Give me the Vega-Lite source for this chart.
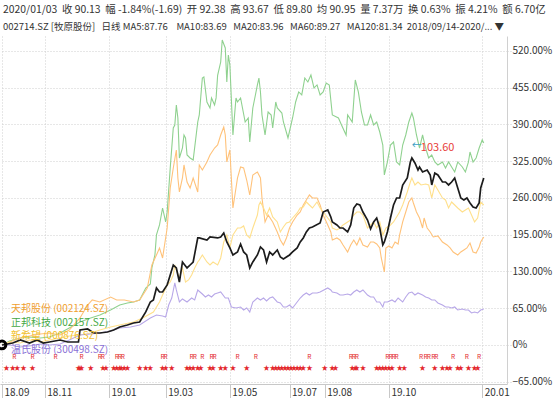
{
"$schema":"https://vega.github.io/schema/vega-lite/v6.json",
"width":507,"height":348,
"autosize":{"type":"none"},
"padding":{"top":36,"left":0,"right":47,"bottom":14},
"background":"white",
"config":{"font":"Noto Sans CJK SC","view":{"stroke":null},"axis":{"labelOverlap":false}},
"title":{"text":"2020/01/03\u00a0\u00a0收 90.13\u00a0\u00a0幅 -1.84%(-1.69)\u00a0\u00a0开 92.38\u00a0\u00a0高 93.67\u00a0\u00a0低 89.80\u00a0\u00a0均 90.95\u00a0\u00a0量 7.37万\u00a0\u00a0换 0.63%\u00a0\u00a0振 4.21%\u00a0\u00a0额 6.70亿",
"subtitle":"002714.SZ [牧原股份]\u00a0\u00a0\u00a0日线\u00a0MA5:87.76\u00a0\u00a0\u00a0\u00a0MA10:83.69\u00a0\u00a0\u00a0MA20:83.96\u00a0\u00a0\u00a0MA60:89.27\u00a0\u00a0\u00a0MA120:81.34\u00a0\u00a02018/09/14-2020/... ▼",
"anchor":"start","frame":"group","offset":5,"fontSize":10.4,"fontWeight":"normal","color":"#333333","subtitleFontSize":9.5,"subtitleColor":"#333333","subtitlePadding":6,"dx":3},
"datasets":{
"my":[{"d":0,"v":0},{"d":7,"v":3.5},{"d":12,"v":8.8},{"d":18,"v":3.5},{"d":23,"v":8.8},{"d":27,"v":3.5},{"d":31,"v":5.3},{"d":38,"v":8.8},{"d":43,"v":5.3},{"d":46,"v":5.3},{"d":50,"v":5.3},{"d":51,"v":26.5},{"d":56,"v":28.3},{"d":60,"v":21.2},{"d":64,"v":21.2},{"d":69,"v":23},{"d":73,"v":26.5},{"d":77,"v":31.8},{"d":82,"v":35.4},{"d":86,"v":38.9},{"d":90,"v":40.7},{"d":94,"v":58.4},{"d":97,"v":76.1},{"d":99,"v":79.6},{"d":101,"v":100.8},{"d":103,"v":93.7},{"d":105,"v":93.7},{"d":108,"v":106.1},{"d":110,"v":123.8},{"d":112,"v":141.5},{"d":114,"v":136.2},{"d":116,"v":111.4},{"d":118,"v":146.8},{"d":121,"v":136.2},{"d":123,"v":141.5},{"d":125,"v":146.8},{"d":128,"v":189.3},{"d":129,"v":189.3},{"d":134,"v":185.7},{"d":136,"v":191},{"d":141,"v":189.3},{"d":143,"v":191},{"d":145,"v":198.1},{"d":147,"v":182.2},{"d":149,"v":171.6},{"d":151,"v":159.2},{"d":154,"v":164.5},{"d":156,"v":178.6},{"d":158,"v":164.5},{"d":160,"v":159.2},{"d":162,"v":136.2},{"d":164,"v":146.8},{"d":167,"v":159.2},{"d":169,"v":173.3},{"d":171,"v":168},{"d":173,"v":146.8},{"d":175,"v":164.5},{"d":177,"v":159.2},{"d":180,"v":168},{"d":182,"v":155.6},{"d":184,"v":152.1},{"d":186,"v":155.6},{"d":188,"v":159.2},{"d":190,"v":164.5},{"d":193,"v":171.6},{"d":195,"v":182.2},{"d":197,"v":189.3},{"d":199,"v":199.9},{"d":201,"v":206.9},{"d":203,"v":208.7},{"d":208,"v":215.8},{"d":210,"v":235.2},{"d":213,"v":238.8},{"d":215,"v":226.4},{"d":216,"v":217.6},{"d":219,"v":212.3},{"d":221,"v":206.9},{"d":223,"v":206.9},{"d":226,"v":199.9},{"d":228,"v":212.3},{"d":230,"v":242.3},{"d":232,"v":249.4},{"d":234,"v":247.6},{"d":236,"v":235.2},{"d":239,"v":221.1},{"d":241,"v":205.2},{"d":243,"v":217.6},{"d":245,"v":224.6},{"d":247,"v":206.9},{"d":249,"v":176.9},{"d":250,"v":182.2},{"d":252,"v":199.9},{"d":254,"v":224.6},{"d":256,"v":247.6},{"d":258,"v":260},{"d":260,"v":260},{"d":262,"v":283},{"d":265,"v":295.4},{"d":267,"v":323.7},{"d":268,"v":330.7},{"d":270,"v":321.9},{"d":272,"v":309.5},{"d":273,"v":314.8},{"d":275,"v":306},{"d":278,"v":309.5},{"d":280,"v":300.7},{"d":281,"v":283},{"d":283,"v":304.2},{"d":285,"v":300.7},{"d":288,"v":288.3},{"d":290,"v":288.3},{"d":292,"v":283},{"d":294,"v":288.3},{"d":296,"v":295.4},{"d":298,"v":277.7},{"d":300,"v":260},{"d":302,"v":256.5},{"d":304,"v":260},{"d":306,"v":251.2},{"d":308,"v":244.1},{"d":310,"v":242.3},{"d":312,"v":251.2},{"d":313,"v":277.7},{"d":315,"v":295.4}],
"lines":[
{"s":"zb","d":0,"v":0},{"s":"zb","d":5,"v":7.1},{"s":"zb","d":12,"v":12.4},{"s":"zb","d":18,"v":14.1},{"s":"zb","d":25,"v":12.4},{"s":"zb","d":31,"v":14.1},{"s":"zb","d":38,"v":21.2},{"s":"zb","d":44,"v":30.1},{"s":"zb","d":51,"v":40.7},{"s":"zb","d":58,"v":47.8},{"s":"zb","d":64,"v":53.1},{"s":"zb","d":71,"v":61.9},{"s":"zb","d":77,"v":70.7},{"s":"zb","d":82,"v":74.3},{"s":"zb","d":86,"v":76.1},{"s":"zb","d":90,"v":79.6},{"s":"zb","d":94,"v":100.8},{"s":"zb","d":97,"v":107.9},{"s":"zb","d":98,"v":136.2},{"s":"zb","d":100,"v":159.2},{"s":"zb","d":101,"v":194.6},{"s":"zb","d":103,"v":212.3},{"s":"zb","d":105,"v":242.3},{"s":"zb","d":107,"v":217.6},{"s":"zb","d":108,"v":235.2},{"s":"zb","d":110,"v":313.1},{"s":"zb","d":112,"v":383.8},{"s":"zb","d":113,"v":389.1},{"s":"zb","d":114,"v":424.5},{"s":"zb","d":115,"v":401.5},{"s":"zb","d":116,"v":330.7},{"s":"zb","d":118,"v":348.4},{"s":"zb","d":119,"v":371.4},{"s":"zb","d":120,"v":366.2},{"s":"zb","d":121,"v":336},{"s":"zb","d":123,"v":330.7},{"s":"zb","d":125,"v":327.2},{"s":"zb","d":128,"v":394.4},{"s":"zb","d":129,"v":406.8},{"s":"zb","d":131,"v":472.2},{"s":"zb","d":132,"v":474},{"s":"zb","d":134,"v":429.8},{"s":"zb","d":136,"v":419.2},{"s":"zb","d":137,"v":436.9},{"s":"zb","d":139,"v":424.5},{"s":"zb","d":140,"v":437},{"s":"zb","d":141,"v":477},{"s":"zb","d":143,"v":500.5},{"s":"zb","d":144,"v":539.4},{"s":"zb","d":146,"v":525.3},{"s":"zb","d":147,"v":465},{"s":"zb","d":148,"v":512.8},{"s":"zb","d":149,"v":495.2},{"s":"zb","d":151,"v":371.4},{"s":"zb","d":153,"v":436.9},{"s":"zb","d":154,"v":429.8},{"s":"zb","d":156,"v":436.9},{"s":"zb","d":159,"v":394.4},{"s":"zb","d":161,"v":401.5},{"s":"zb","d":162,"v":359},{"s":"zb","d":164,"v":419.2},{"s":"zb","d":167,"v":459.9},{"s":"zb","d":168,"v":472.2},{"s":"zb","d":169,"v":447.5},{"s":"zb","d":170,"v":406.8},{"s":"zb","d":172,"v":371.4},{"s":"zb","d":174,"v":412.1},{"s":"zb","d":176,"v":406.8},{"s":"zb","d":177,"v":383.8},{"s":"zb","d":179,"v":429.8},{"s":"zb","d":180,"v":419.2},{"s":"zb","d":183,"v":410.3},{"s":"zb","d":184,"v":394.4},{"s":"zb","d":187,"v":366.2},{"s":"zb","d":190,"v":401.5},{"s":"zb","d":192,"v":429.8},{"s":"zb","d":194,"v":447.5},{"s":"zb","d":196,"v":442.2},{"s":"zb","d":198,"v":472.2},{"s":"zb","d":200,"v":465.2},{"s":"zb","d":202,"v":477.5},{"s":"zb","d":204,"v":454.6},{"s":"zb","d":206,"v":459.9},{"s":"zb","d":208,"v":442.2},{"s":"zb","d":210,"v":447.5},{"s":"zb","d":212,"v":463.4},{"s":"zb","d":214,"v":459.9},{"s":"zb","d":216,"v":406.8},{"s":"zb","d":220,"v":401.5},{"s":"zb","d":222,"v":389.1},{"s":"zb","d":225,"v":371.4},{"s":"zb","d":226,"v":406.8},{"s":"zb","d":229,"v":394.4},{"s":"zb","d":231,"v":468.7},{"s":"zb","d":233,"v":447.5},{"s":"zb","d":235,"v":412.1},{"s":"zb","d":237,"v":389.1},{"s":"zb","d":239,"v":389.1},{"s":"zb","d":241,"v":406.8},{"s":"zb","d":243,"v":389.1},{"s":"zb","d":245,"v":394.4},{"s":"zb","d":247,"v":376.7},{"s":"zb","d":249,"v":353.7},{"s":"zb","d":250,"v":300.7},{"s":"zb","d":252,"v":323.7},{"s":"zb","d":254,"v":353.7},{"s":"zb","d":256,"v":359},{"s":"zb","d":258,"v":323.7},{"s":"zb","d":260,"v":318.4},{"s":"zb","d":262,"v":353.7},{"s":"zb","d":264,"v":371.4},{"s":"zb","d":266,"v":394.4},{"s":"zb","d":268,"v":410.3},{"s":"zb","d":269,"v":401.5},{"s":"zb","d":271,"v":371.4},{"s":"zb","d":273,"v":348.4},{"s":"zb","d":275,"v":371.4},{"s":"zb","d":277,"v":348.4},{"s":"zb","d":279,"v":330.7},{"s":"zb","d":281,"v":336},{"s":"zb","d":283,"v":323.7},{"s":"zb","d":285,"v":318.4},{"s":"zb","d":288,"v":323.7},{"s":"zb","d":290,"v":313.1},{"s":"zb","d":292,"v":323.7},{"s":"zb","d":294,"v":314.8},{"s":"zb","d":296,"v":306},{"s":"zb","d":298,"v":323.7},{"s":"zb","d":301,"v":314.8},{"s":"zb","d":303,"v":306},{"s":"zb","d":305,"v":323.7},{"s":"zb","d":306,"v":341.4},{"s":"zb","d":308,"v":323.7},{"s":"zb","d":310,"v":330.7},{"s":"zb","d":312,"v":348.4},{"s":"zb","d":314,"v":362.6},{"s":"zb","d":315,"v":357.3},
{"s":"tb","d":0,"v":0},{"s":"tb","d":5,"v":5.3},{"s":"tb","d":12,"v":12.4},{"s":"tb","d":18,"v":15.9},{"s":"tb","d":25,"v":19.5},{"s":"tb","d":31,"v":21.2},{"s":"tb","d":38,"v":17.7},{"s":"tb","d":44,"v":26.5},{"s":"tb","d":51,"v":47.8},{"s":"tb","d":56,"v":70.7},{"s":"tb","d":59,"v":79.6},{"s":"tb","d":64,"v":76.1},{"s":"tb","d":71,"v":84.9},{"s":"tb","d":75,"v":79.6},{"s":"tb","d":80,"v":79.6},{"s":"tb","d":86,"v":76.1},{"s":"tb","d":90,"v":79.6},{"s":"tb","d":95,"v":100.8},{"s":"tb","d":98,"v":141.5},{"s":"tb","d":101,"v":159.2},{"s":"tb","d":103,"v":171.6},{"s":"tb","d":105,"v":153.9},{"s":"tb","d":108,"v":206.9},{"s":"tb","d":110,"v":277.7},{"s":"tb","d":112,"v":313.1},{"s":"tb","d":114,"v":344.9},{"s":"tb","d":115,"v":295.4},{"s":"tb","d":116,"v":270.6},{"s":"tb","d":118,"v":295.4},{"s":"tb","d":119,"v":318.4},{"s":"tb","d":121,"v":288.3},{"s":"tb","d":123,"v":277.7},{"s":"tb","d":125,"v":295.4},{"s":"tb","d":128,"v":270.6},{"s":"tb","d":129,"v":318.4},{"s":"tb","d":131,"v":309.5},{"s":"tb","d":134,"v":323.7},{"s":"tb","d":136,"v":336},{"s":"tb","d":139,"v":348.4},{"s":"tb","d":141,"v":353.7},{"s":"tb","d":143,"v":371.4},{"s":"tb","d":145,"v":385.6},{"s":"tb","d":146,"v":371.4},{"s":"tb","d":147,"v":323.7},{"s":"tb","d":149,"v":344.9},{"s":"tb","d":151,"v":242.3},{"s":"tb","d":154,"v":295.4},{"s":"tb","d":156,"v":314.8},{"s":"tb","d":158,"v":313.1},{"s":"tb","d":160,"v":291.8},{"s":"tb","d":162,"v":265.3},{"s":"tb","d":164,"v":300.7},{"s":"tb","d":167,"v":306},{"s":"tb","d":169,"v":295.4},{"s":"tb","d":170,"v":260},{"s":"tb","d":172,"v":217.6},{"s":"tb","d":174,"v":229.9},{"s":"tb","d":177,"v":217.6},{"s":"tb","d":180,"v":199.9},{"s":"tb","d":182,"v":185.7},{"s":"tb","d":184,"v":176.9},{"s":"tb","d":186,"v":189.3},{"s":"tb","d":188,"v":206.9},{"s":"tb","d":190,"v":217.6},{"s":"tb","d":193,"v":229.9},{"s":"tb","d":195,"v":235.2},{"s":"tb","d":197,"v":247.6},{"s":"tb","d":199,"v":256.5},{"s":"tb","d":201,"v":265.3},{"s":"tb","d":203,"v":260},{"s":"tb","d":206,"v":260},{"s":"tb","d":208,"v":247.6},{"s":"tb","d":210,"v":229.9},{"s":"tb","d":213,"v":212.3},{"s":"tb","d":215,"v":199.9},{"s":"tb","d":216,"v":185.7},{"s":"tb","d":219,"v":189.3},{"s":"tb","d":221,"v":185.7},{"s":"tb","d":223,"v":176.9},{"s":"tb","d":226,"v":164.5},{"s":"tb","d":228,"v":176.9},{"s":"tb","d":230,"v":185.7},{"s":"tb","d":232,"v":176.9},{"s":"tb","d":234,"v":189.3},{"s":"tb","d":236,"v":176.9},{"s":"tb","d":239,"v":173.3},{"s":"tb","d":241,"v":182.2},{"s":"tb","d":243,"v":182.2},{"s":"tb","d":245,"v":178.6},{"s":"tb","d":247,"v":171.6},{"s":"tb","d":248,"v":153.9},{"s":"tb","d":250,"v":129.1},{"s":"tb","d":251,"v":171.6},{"s":"tb","d":253,"v":175.1},{"s":"tb","d":255,"v":171.6},{"s":"tb","d":257,"v":182.2},{"s":"tb","d":259,"v":178.6},{"s":"tb","d":260,"v":194.6},{"s":"tb","d":262,"v":217.6},{"s":"tb","d":264,"v":235.2},{"s":"tb","d":266,"v":252.9},{"s":"tb","d":268,"v":260},{"s":"tb","d":269,"v":251.2},{"s":"tb","d":271,"v":235.2},{"s":"tb","d":273,"v":224.6},{"s":"tb","d":275,"v":206.9},{"s":"tb","d":276,"v":224.6},{"s":"tb","d":278,"v":206.9},{"s":"tb","d":280,"v":199.9},{"s":"tb","d":282,"v":191},{"s":"tb","d":285,"v":192.8},{"s":"tb","d":286,"v":189.3},{"s":"tb","d":288,"v":182.2},{"s":"tb","d":291,"v":176.9},{"s":"tb","d":293,"v":171.6},{"s":"tb","d":295,"v":164.5},{"s":"tb","d":298,"v":159.2},{"s":"tb","d":300,"v":164.5},{"s":"tb","d":302,"v":168},{"s":"tb","d":304,"v":171.6},{"s":"tb","d":306,"v":180.4},{"s":"tb","d":308,"v":164.5},{"s":"tb","d":310,"v":162.7},{"s":"tb","d":312,"v":173.3},{"s":"tb","d":313,"v":182.2},{"s":"tb","d":315,"v":191},
{"s":"xxw","d":0,"v":0},{"s":"xxw","d":5,"v":5.3},{"s":"xxw","d":12,"v":3.5},{"s":"xxw","d":18,"v":8.8},{"s":"xxw","d":25,"v":5.3},{"s":"xxw","d":31,"v":8.8},{"s":"xxw","d":38,"v":12.4},{"s":"xxw","d":44,"v":15.9},{"s":"xxw","d":51,"v":17.7},{"s":"xxw","d":58,"v":21.2},{"s":"xxw","d":64,"v":26.5},{"s":"xxw","d":71,"v":31.8},{"s":"xxw","d":77,"v":35.4},{"s":"xxw","d":86,"v":40.7},{"s":"xxw","d":92,"v":47.8},{"s":"xxw","d":99,"v":58.4},{"s":"xxw","d":103,"v":76.1},{"s":"xxw","d":105,"v":88.4},{"s":"xxw","d":108,"v":106.1},{"s":"xxw","d":110,"v":111.4},{"s":"xxw","d":112,"v":123.8},{"s":"xxw","d":113,"v":141.5},{"s":"xxw","d":114,"v":132.7},{"s":"xxw","d":116,"v":118.5},{"s":"xxw","d":118,"v":136.2},{"s":"xxw","d":120,"v":111.4},{"s":"xxw","d":122,"v":115},{"s":"xxw","d":124,"v":123.8},{"s":"xxw","d":126,"v":136.2},{"s":"xxw","d":128,"v":146.8},{"s":"xxw","d":129,"v":150.3},{"s":"xxw","d":131,"v":159.2},{"s":"xxw","d":134,"v":146.8},{"s":"xxw","d":136,"v":141.5},{"s":"xxw","d":138,"v":146.8},{"s":"xxw","d":141,"v":141.5},{"s":"xxw","d":143,"v":153.9},{"s":"xxw","d":145,"v":182.2},{"s":"xxw","d":147,"v":194.6},{"s":"xxw","d":149,"v":171.6},{"s":"xxw","d":151,"v":194.6},{"s":"xxw","d":154,"v":206.9},{"s":"xxw","d":156,"v":206.9},{"s":"xxw","d":158,"v":210.5},{"s":"xxw","d":160,"v":194.6},{"s":"xxw","d":162,"v":189.3},{"s":"xxw","d":164,"v":206.9},{"s":"xxw","d":167,"v":229.9},{"s":"xxw","d":168,"v":247.6},{"s":"xxw","d":169,"v":252.9},{"s":"xxw","d":171,"v":242.3},{"s":"xxw","d":173,"v":229.9},{"s":"xxw","d":175,"v":242.3},{"s":"xxw","d":177,"v":226.4},{"s":"xxw","d":180,"v":217.6},{"s":"xxw","d":182,"v":199.9},{"s":"xxw","d":184,"v":208.7},{"s":"xxw","d":186,"v":215.8},{"s":"xxw","d":188,"v":217.6},{"s":"xxw","d":190,"v":224.6},{"s":"xxw","d":193,"v":233.5},{"s":"xxw","d":195,"v":242.3},{"s":"xxw","d":197,"v":244.1},{"s":"xxw","d":199,"v":252.9},{"s":"xxw","d":201,"v":247.6},{"s":"xxw","d":203,"v":242.3},{"s":"xxw","d":206,"v":252.9},{"s":"xxw","d":208,"v":242.3},{"s":"xxw","d":210,"v":235.2},{"s":"xxw","d":213,"v":224.6},{"s":"xxw","d":215,"v":217.6},{"s":"xxw","d":216,"v":206.9},{"s":"xxw","d":219,"v":203.4},{"s":"xxw","d":221,"v":206.9},{"s":"xxw","d":223,"v":212.3},{"s":"xxw","d":226,"v":217.6},{"s":"xxw","d":228,"v":221.1},{"s":"xxw","d":230,"v":229.9},{"s":"xxw","d":232,"v":235.2},{"s":"xxw","d":234,"v":235.2},{"s":"xxw","d":236,"v":229.9},{"s":"xxw","d":239,"v":206.9},{"s":"xxw","d":241,"v":212.3},{"s":"xxw","d":243,"v":217.6},{"s":"xxw","d":245,"v":206.9},{"s":"xxw","d":247,"v":217.6},{"s":"xxw","d":249,"v":194.6},{"s":"xxw","d":251,"v":206.9},{"s":"xxw","d":254,"v":212.3},{"s":"xxw","d":256,"v":217.6},{"s":"xxw","d":258,"v":226.4},{"s":"xxw","d":260,"v":235.2},{"s":"xxw","d":262,"v":247.6},{"s":"xxw","d":265,"v":270.6},{"s":"xxw","d":267,"v":288.3},{"s":"xxw","d":268,"v":295.4},{"s":"xxw","d":270,"v":283},{"s":"xxw","d":272,"v":288.3},{"s":"xxw","d":274,"v":283},{"s":"xxw","d":277,"v":284.8},{"s":"xxw","d":279,"v":283},{"s":"xxw","d":281,"v":260},{"s":"xxw","d":283,"v":283},{"s":"xxw","d":285,"v":274.2},{"s":"xxw","d":288,"v":260},{"s":"xxw","d":290,"v":256.5},{"s":"xxw","d":292,"v":242.3},{"s":"xxw","d":294,"v":252.9},{"s":"xxw","d":296,"v":247.6},{"s":"xxw","d":298,"v":242.3},{"s":"xxw","d":301,"v":235.2},{"s":"xxw","d":303,"v":238.8},{"s":"xxw","d":305,"v":242.3},{"s":"xxw","d":307,"v":229.9},{"s":"xxw","d":309,"v":217.6},{"s":"xxw","d":311,"v":224.6},{"s":"xxw","d":313,"v":252.9},{"s":"xxw","d":315,"v":247.6},
{"s":"ws","d":0,"v":0},{"s":"ws","d":5,"v":0},{"s":"ws","d":12,"v":-3.5},{"s":"ws","d":18,"v":-1.8},{"s":"ws","d":25,"v":1.8},{"s":"ws","d":31,"v":0},{"s":"ws","d":38,"v":1.8},{"s":"ws","d":44,"v":8.8},{"s":"ws","d":51,"v":17.7},{"s":"ws","d":58,"v":19.5},{"s":"ws","d":64,"v":21.2},{"s":"ws","d":71,"v":24.8},{"s":"ws","d":77,"v":30.1},{"s":"ws","d":84,"v":31.8},{"s":"ws","d":90,"v":35.4},{"s":"ws","d":97,"v":47.8},{"s":"ws","d":101,"v":53.1},{"s":"ws","d":105,"v":51.3},{"s":"ws","d":107,"v":49.5},{"s":"ws","d":109,"v":70.7},{"s":"ws","d":111,"v":83.1},{"s":"ws","d":113,"v":109.7},{"s":"ws","d":114,"v":97.3},{"s":"ws","d":116,"v":76.1},{"s":"ws","d":118,"v":81.4},{"s":"ws","d":121,"v":76.1},{"s":"ws","d":124,"v":83.1},{"s":"ws","d":126,"v":79.6},{"s":"ws","d":128,"v":97.3},{"s":"ws","d":131,"v":90.2},{"s":"ws","d":133,"v":84.9},{"s":"ws","d":135,"v":88.4},{"s":"ws","d":137,"v":84.9},{"s":"ws","d":139,"v":90.2},{"s":"ws","d":141,"v":92},{"s":"ws","d":143,"v":93.7},{"s":"ws","d":146,"v":83.1},{"s":"ws","d":148,"v":83.1},{"s":"ws","d":150,"v":67.2},{"s":"ws","d":153,"v":65.4},{"s":"ws","d":156,"v":67.2},{"s":"ws","d":158,"v":61.9},{"s":"ws","d":160,"v":65.4},{"s":"ws","d":162,"v":58.4},{"s":"ws","d":164,"v":76.1},{"s":"ws","d":167,"v":83.1},{"s":"ws","d":169,"v":79.6},{"s":"ws","d":171,"v":83.1},{"s":"ws","d":173,"v":77.8},{"s":"ws","d":175,"v":83.1},{"s":"ws","d":177,"v":84.9},{"s":"ws","d":180,"v":76.1},{"s":"ws","d":182,"v":74.3},{"s":"ws","d":184,"v":67.2},{"s":"ws","d":186,"v":67.2},{"s":"ws","d":188,"v":70.7},{"s":"ws","d":190,"v":65.4},{"s":"ws","d":193,"v":76.1},{"s":"ws","d":195,"v":83.1},{"s":"ws","d":197,"v":88.4},{"s":"ws","d":199,"v":92},{"s":"ws","d":201,"v":88.4},{"s":"ws","d":203,"v":92},{"s":"ws","d":206,"v":92},{"s":"ws","d":208,"v":93.7},{"s":"ws","d":213,"v":100.8},{"s":"ws","d":215,"v":97.3},{"s":"ws","d":216,"v":93.7},{"s":"ws","d":219,"v":92},{"s":"ws","d":221,"v":88.4},{"s":"ws","d":223,"v":88.4},{"s":"ws","d":226,"v":90.2},{"s":"ws","d":228,"v":88.4},{"s":"ws","d":230,"v":93.7},{"s":"ws","d":232,"v":97.3},{"s":"ws","d":234,"v":93.7},{"s":"ws","d":236,"v":97.3},{"s":"ws","d":239,"v":88.4},{"s":"ws","d":241,"v":84.9},{"s":"ws","d":243,"v":84.9},{"s":"ws","d":245,"v":76.1},{"s":"ws","d":247,"v":76.1},{"s":"ws","d":249,"v":67.2},{"s":"ws","d":250,"v":76.1},{"s":"ws","d":252,"v":76.1},{"s":"ws","d":255,"v":79.6},{"s":"ws","d":257,"v":76.1},{"s":"ws","d":259,"v":83.1},{"s":"ws","d":262,"v":76.1},{"s":"ws","d":264,"v":84.9},{"s":"ws","d":266,"v":92},{"s":"ws","d":268,"v":93.7},{"s":"ws","d":270,"v":88.4},{"s":"ws","d":272,"v":92},{"s":"ws","d":275,"v":88.4},{"s":"ws","d":277,"v":84.9},{"s":"ws","d":279,"v":83.1},{"s":"ws","d":281,"v":79.6},{"s":"ws","d":283,"v":79.6},{"s":"ws","d":285,"v":74.3},{"s":"ws","d":288,"v":70.7},{"s":"ws","d":290,"v":67.2},{"s":"ws","d":292,"v":67.2},{"s":"ws","d":294,"v":65.4},{"s":"ws","d":296,"v":67.2},{"s":"ws","d":298,"v":61.9},{"s":"ws","d":301,"v":63.7},{"s":"ws","d":303,"v":61.9},{"s":"ws","d":305,"v":61.9},{"s":"ws","d":307,"v":56.6},{"s":"ws","d":309,"v":58.4},{"s":"ws","d":311,"v":56.6},{"s":"ws","d":313,"v":61.9},{"s":"ws","d":315,"v":63.7}],
"rm":[{"d":8},{"d":20},{"d":35},{"d":52},{"d":64},{"d":66},{"d":75},{"d":77},{"d":79},{"d":105},{"d":107},{"d":124},{"d":126},{"d":131},{"d":137},{"d":139},{"d":154},{"d":166},{"d":201},{"d":228},{"d":230},{"d":232},{"d":252},{"d":254},{"d":256},{"d":258},{"d":274},{"d":277},{"d":279},{"d":282},{"d":284},{"d":295},{"d":304},{"d":312}],
"st":[{"d":3},{"d":7},{"d":10},{"d":14},{"d":20},{"d":50},{"d":51},{"d":52},{"d":58},{"d":66},{"d":68},{"d":73},{"d":75},{"d":77},{"d":78},{"d":80},{"d":82},{"d":90},{"d":94},{"d":97},{"d":105},{"d":107},{"d":111},{"d":121},{"d":123},{"d":125},{"d":128},{"d":130},{"d":136},{"d":138},{"d":143},{"d":146},{"d":151},{"d":160},{"d":173},{"d":177},{"d":179},{"d":181},{"d":183},{"d":185},{"d":187},{"d":189},{"d":191},{"d":193},{"d":195},{"d":197},{"d":201},{"d":211},{"d":216},{"d":218},{"d":229},{"d":231},{"d":232},{"d":236},{"d":245},{"d":247},{"d":249},{"d":251},{"d":253},{"d":255},{"d":260},{"d":263},{"d":275},{"d":283},{"d":288},{"d":291},{"d":293},{"d":298},{"d":300},{"d":305},{"d":309},{"d":311}]
},
"layer":[
{"data":{"name":"lines"},"mark":{"type":"line","strokeWidth":1.1},
"encoding":{
"x":{"field":"d","type":"quantitative","scale":{"domain":[-1.3,330.2],"nice":false,"zero":false},
"axis":{"values":[0,28,70,107,149,188,211,253,314],
"labelExpr":"{'0':'18.09','28':'18.11','70':'19.01','107':'19.03','149':'19.05','188':'19.07','211':'19.08','253':'19.10','314':'20.01'}[datum.value]",
"title":null,"grid":true,"gridDash":[1,2],"gridColor":"#cfcfcf","tickSize":14,
"tickColor":"#c8c8c8","domainColor":"#c8c8c8","labelAlign":"left","labelBaseline":"top","labelPadding":-11,"labelOffset":2,"labelFontSize":10,"labelColor":"#333333","labelOverlap":false,"labelFlush":false,"labelBound":false}},
"y":{"field":"v","type":"quantitative","scale":{"domain":[-69,546.5],"nice":false,"zero":false},
"axis":{"orient":"right","values":[-65,0,65,130,195,260,325,390,455,520],"labelExpr":"datum.value == 0 ? '0%' : format(datum.value, '.2f') + '%'","title":null,"grid":true,"gridDash":[1,2],"gridColor":"#cfcfcf","domainColor":"#d0d0d0","tickSize":4,"tickColor":"#cfcfcf","tickDash":[1,2],"labelPadding":1,"labelFontSize":10,"labelColor":"#333333","labelOverlap":false,"labelFlush":false,"labelBound":false}},
"color":{"field":"s","type":"nominal","scale":{"domain":["tb","zb","xxw","ws"],"range":["#FFC27A","#8FD18F","#FFE08C","#B8A8E8"]},
"legend":{"orient":"none","legendX":1,"legendY":268,"title":null,"symbolSize":0,"symbolStrokeWidth":0,"symbolOpacity":0,"labelFontSize":10,"labelOffset":0,"rowPadding":3.6,
"labelExpr":"{'tb':'天邦股份 (002124.SZ)','zb':'正邦科技 (002157.SZ)','xxw':'新希望 (000876.SZ)','ws':'温氏股份 (300498.SZ)'}[datum.value]",
"encode":{"labels":{"update":{"fill":{"signal":"{'tb':'#F0A030','zb':'#45A845','xxw':'#F2C02E','ws':'#8A70D6'}[datum.value]"}}}}}}}},
{"data":{"name":"my"},"mark":{"type":"line","strokeWidth":1.7,"color":"#1c1c1c"},
"encoding":{"x":{"field":"d","type":"quantitative"},"y":{"field":"v","type":"quantitative",
"axis":{"orient":"right","values":[-65,0,65,130,195,260,325,390,455,520],"labelExpr":"datum.value == 0 ? '0%' : format(datum.value, '.2f') + '%'","title":null,"grid":true,"gridDash":[1,2],"gridColor":"#cfcfcf","domainColor":"#d0d0d0","tickSize":4,"tickColor":"#cfcfcf","tickDash":[1,2],"labelPadding":1,"labelFontSize":10,"labelColor":"#333333","labelOverlap":false,"labelFlush":false,"labelBound":false}}}},
{"data":{"name":"my"},"transform":[{"filter":"datum.d == 0"}],"mark":{"type":"point","shape":"circle","size":60,"filled":false,"strokeWidth":3,"color":"#000000","opacity":1},
"encoding":{"x":{"field":"d","type":"quantitative"},"y":{"field":"v","type":"quantitative",
"axis":{"orient":"right","values":[-65,0,65,130,195,260,325,390,455,520],"labelExpr":"datum.value == 0 ? '0%' : format(datum.value, '.2f') + '%'","title":null,"grid":true,"gridDash":[1,2],"gridColor":"#cfcfcf","domainColor":"#d0d0d0","tickSize":4,"tickColor":"#cfcfcf","tickDash":[1,2],"labelPadding":1,"labelFontSize":10,"labelColor":"#333333","labelOverlap":false,"labelFlush":false,"labelBound":false}}}},
{"data":{"name":"rm"},"mark":{"type":"text","fontSize":6.5,"color":"#E3262B"},
"encoding":{"x":{"field":"d","type":"quantitative"},"y":{"datum":-21,"type":"quantitative",
"axis":{"orient":"right","values":[-65,0,65,130,195,260,325,390,455,520],"labelExpr":"datum.value == 0 ? '0%' : format(datum.value, '.2f') + '%'","title":null,"grid":true,"gridDash":[1,2],"gridColor":"#cfcfcf","domainColor":"#d0d0d0","tickSize":4,"tickColor":"#cfcfcf","tickDash":[1,2],"labelPadding":1,"labelFontSize":10,"labelColor":"#333333","labelOverlap":false,"labelFlush":false,"labelBound":false}},"text":{"value":"R"}}},
{"data":{"name":"st"},"mark":{"type":"text","fontSize":6.5,"color":"#E3262B"},
"encoding":{"x":{"field":"d","type":"quantitative"},"y":{"datum":-41,"type":"quantitative",
"axis":{"orient":"right","values":[-65,0,65,130,195,260,325,390,455,520],"labelExpr":"datum.value == 0 ? '0%' : format(datum.value, '.2f') + '%'","title":null,"grid":true,"gridDash":[1,2],"gridColor":"#cfcfcf","domainColor":"#d0d0d0","tickSize":4,"tickColor":"#cfcfcf","tickDash":[1,2],"labelPadding":1,"labelFontSize":10,"labelColor":"#333333","labelOverlap":false,"labelFlush":false,"labelBound":false}},"text":{"value":"★"}}},
{"data":{"name":"my"},"transform":[{"filter":"datum.d == 268"}],"mark":{"type":"text","fontSize":10,"color":"#3A9FC4","align":"left","dx":0,"dy":-12},
"encoding":{"x":{"field":"d","type":"quantitative"},"y":{"field":"v","type":"quantitative",
"axis":{"orient":"right","values":[-65,0,65,130,195,260,325,390,455,520],"labelExpr":"datum.value == 0 ? '0%' : format(datum.value, '.2f') + '%'","title":null,"grid":true,"gridDash":[1,2],"gridColor":"#cfcfcf","domainColor":"#d0d0d0","tickSize":4,"tickColor":"#cfcfcf","tickDash":[1,2],"labelPadding":1,"labelFontSize":10,"labelColor":"#333333","labelOverlap":false,"labelFlush":false,"labelBound":false}},"text":{"value":"←"}}},
{"data":{"name":"my"},"transform":[{"filter":"datum.d == 268"}],"mark":{"type":"text","fontSize":11,"color":"#E8413B","align":"left","dx":9,"dy":-10},
"encoding":{"x":{"field":"d","type":"quantitative"},"y":{"field":"v","type":"quantitative",
"axis":{"orient":"right","values":[-65,0,65,130,195,260,325,390,455,520],"labelExpr":"datum.value == 0 ? '0%' : format(datum.value, '.2f') + '%'","title":null,"grid":true,"gridDash":[1,2],"gridColor":"#cfcfcf","domainColor":"#d0d0d0","tickSize":4,"tickColor":"#cfcfcf","tickDash":[1,2],"labelPadding":1,"labelFontSize":10,"labelColor":"#333333","labelOverlap":false,"labelFlush":false,"labelBound":false}},"text":{"value":"103.60"}}}
]
}
